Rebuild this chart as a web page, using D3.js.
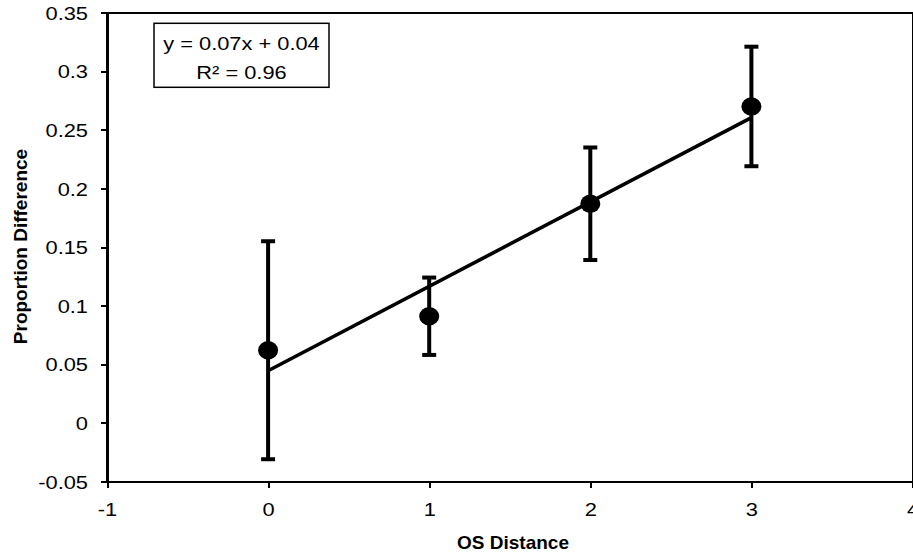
<!DOCTYPE html>
<meta charset="utf-8">
<style>
  body { margin: 0; background: #fff; }
  svg { display: block; font-family: 'Liberation Sans', Arial, sans-serif; }
  .axis path, .axis line { stroke: #000; stroke-width: 2; shape-rendering: crispEdges; }
  .axis text { font-size: 18.5px; fill: #000; }
  .axisLabel { font-size: 19px; font-weight: bold; }
</style>
<body>
<div id="chart"></div>
<script src="https://d3js.org/d3.v7.min.js"></script>
<script>
  // data
  var distances = [0, 1, 2, 3];
  var propDiff = [0.062, 0.091, 0.187, 0.270];
  var errBar = [0.093, 0.033, 0.048, 0.051];
  var xTicks = [-1, 0, 1, 2, 3, 4];
  var yTicks = [-0.05, 0, 0.05, 0.1, 0.15, 0.2, 0.25, 0.3, 0.35];
  var fitLabel = ["y = 0.07x + 0.04", "R² = 0.96"];

  var width = 913, height = 554;
  var sx = 1.18; // text in the reference is a bit wider than Arial

  var svg = d3.select("#chart").append("svg")
    .attr("width", width)
    .attr("height", height);

  var x = d3.scaleLinear().domain([-1, 4]).range([107, 912.5]);
  var y = d3.scaleLinear().domain([-0.05, 0.35]).range([481.5, 12.7]);

  // plot frame
  svg.append("rect")
    .attr("x", x(-1)).attr("y", y(0.35))
    .attr("width", x(4) - x(-1)).attr("height", y(-0.05) - y(0.35))
    .attr("fill", "none").attr("stroke", "#000").attr("stroke-width", 2)
    .attr("shape-rendering", "crispEdges");

  // axes
  var gx = svg.append("g")
    .attr("class", "x axis")
    .attr("transform", `translate(0,${y(-0.05)})`)
    .call(d3.axisBottom(x).tickValues(xTicks).tickSize(6).tickSizeOuter(0).tickFormat(d => d));
  gx.selectAll("text")
    .attr("transform", `scale(${sx},1)`)
    .attr("x", 0)
    .attr("y", 34.5 / 1)
    .attr("dy", 0);
  gx.selectAll(".tick text").each(function () {
    // keep labels centred under their tick after the stretch
    d3.select(this).attr("x", 0);
  });

  var gy = svg.append("g")
    .attr("class", "y axis")
    .attr("transform", `translate(${x(-1)},0)`)
    .call(d3.axisLeft(y).tickValues(yTicks).tickSize(6).tickSizeOuter(0).tickFormat(d => String(d)));
  gy.selectAll("text")
    .attr("transform", `scale(${sx},1)`)
    .attr("x", -19 / sx)
    .attr("dy", "0.36em");

  // trendline (least squares over the points)
  var mx = d3.mean(distances), my = d3.mean(propDiff);
  var slope = d3.sum(distances, (d, i) => (d - mx) * (propDiff[i] - my)) /
              d3.sum(distances, d => (d - mx) * (d - mx));
  var icpt = my - slope * mx;
  var x0 = d3.min(distances), x1 = d3.max(distances);
  svg.append("line")
    .attr("x1", x(x0)).attr("y1", y(icpt + slope * x0))
    .attr("x2", x(x1)).attr("y2", y(icpt + slope * x1))
    .attr("stroke", "#000").attr("stroke-width", 3.6);

  // error bars
  var bars = svg.append("g").attr("stroke", "#000").attr("stroke-width", 4);
  distances.forEach(function (d, i) {
    var cx = x(d);
    bars.append("line")
      .attr("x1", cx).attr("x2", cx)
      .attr("y1", y(propDiff[i] + errBar[i])).attr("y2", y(propDiff[i] - errBar[i]));
    [propDiff[i] + errBar[i], propDiff[i] - errBar[i]].forEach(function (v) {
      bars.append("line")
        .attr("x1", cx - 7).attr("x2", cx + 7)
        .attr("y1", y(v)).attr("y2", y(v));
    });
  });

  // markers
  svg.selectAll(".dot")
    .data(distances)
    .enter().append("ellipse")
    .attr("class", "dot")
    .attr("cx", d => x(d))
    .attr("cy", (d, i) => y(propDiff[i]))
    .attr("rx", 10).attr("ry", 9.3)
    .attr("fill", "#000");

  // equation box
  svg.append("rect")
    .attr("x", 154).attr("y", 23.3)
    .attr("width", 175).attr("height", 64)
    .attr("fill", "#fff").attr("stroke", "#000").attr("stroke-width", 1.5);
  fitLabel.forEach(function (t, i) {
    svg.append("text")
      .attr("transform", `translate(241.5,${49.5 + i * 29}) scale(${sx},1)`)
      .attr("text-anchor", "middle")
      .style("font-size", "18.5px")
      .text(t);
  });

  // axis titles
  svg.append("text")
    .attr("class", "axisLabel")
    .attr("x", 513)
    .attr("y", 549)
    .attr("text-anchor", "middle")
    .text("OS Distance");

  svg.append("text")
    .attr("class", "axisLabel")
    .attr("transform", "translate(26.5,246.5) rotate(-90)")
    .attr("text-anchor", "middle")
    .text("Proportion Difference");
</script>
</body>
